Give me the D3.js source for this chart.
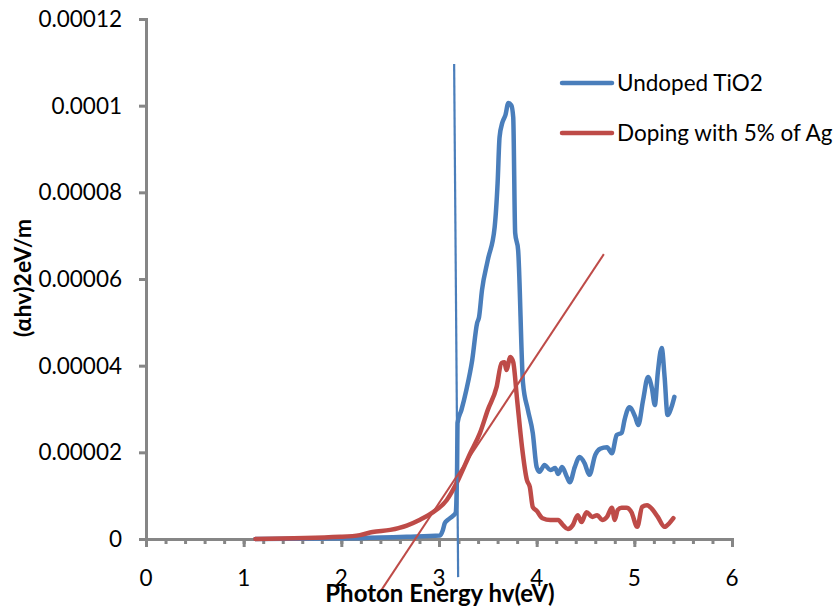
<!DOCTYPE html>
<html>
<head>
<meta charset="utf-8">
<script src="https://cdn.jsdelivr.net/npm/d3@7"></script>
<style>
  html, body { margin: 0; padding: 0; background: #fff; }
  svg { display: block; }
  text { font-family: Lato, "Open Sans", sans-serif; fill: #000; }
</style>
</head>
<body>
<svg id="chart" width="835" height="607"></svg>
<script>
// ---- data ----
const undopedX = [1.12, 2.19, 2.67, 3.01, 3.04, 3.06, 3.09, 3.14, 3.17, 3.185, 3.19, 3.23, 3.28, 3.34, 3.39, 3.41, 3.44, 3.50, 3.57, 3.60, 3.62, 3.65, 3.68, 3.71, 3.74, 3.76, 3.78, 3.81, 3.86, 3.91, 3.96, 4.00, 4.03, 4.08, 4.14, 4.19, 4.22, 4.26, 4.31, 4.34, 4.39, 4.44, 4.49, 4.54, 4.60, 4.65, 4.72, 4.77, 4.82, 4.87, 4.90, 4.95, 5.01, 5.04, 5.09, 5.14, 5.18, 5.21, 5.24, 5.28, 5.31, 5.34, 5.38, 5.41];
const undopedY = [0.0, 0.02e-5, 0.05e-5, 0.08e-5, 0.21e-5, 0.37e-5, 0.44e-5, 0.53e-5, 0.60e-5, 1.59e-5, 2.68e-5, 2.98e-5, 3.44e-5, 4.13e-5, 4.98e-5, 5.12e-5, 5.74e-5, 6.44e-5, 7.20e-5, 8.21e-5, 9.27e-5, 9.62e-5, 9.78e-5, 10.06e-5, 10.01e-5, 9.73e-5, 7.06e-5, 6.67e-5, 3.60e-5, 2.98e-5, 2.45e-5, 1.66e-5, 1.55e-5, 1.71e-5, 1.59e-5, 1.64e-5, 1.50e-5, 1.66e-5, 1.43e-5, 1.31e-5, 1.66e-5, 1.89e-5, 1.75e-5, 1.48e-5, 1.94e-5, 2.08e-5, 2.12e-5, 1.98e-5, 2.40e-5, 2.45e-5, 2.75e-5, 3.04e-5, 2.81e-5, 2.63e-5, 3.21e-5, 3.74e-5, 3.48e-5, 3.09e-5, 3.83e-5, 4.41e-5, 3.74e-5, 2.86e-5, 3.04e-5, 3.28e-5];

const dopedX = [1.12, 1.99, 2.19, 2.32, 2.50, 2.67, 2.80, 2.94, 3.08, 3.18, 3.21, 3.32, 3.42, 3.50, 3.59, 3.64, 3.67, 3.69, 3.73, 3.76, 3.80, 3.85, 3.90, 3.93, 3.96, 4.00, 4.06, 4.14, 4.22, 4.27, 4.32, 4.37, 4.42, 4.46, 4.51, 4.57, 4.62, 4.67, 4.72, 4.77, 4.80, 4.83, 4.87, 4.92, 4.97, 5.03, 5.08, 5.13, 5.19, 5.24, 5.31, 5.36, 5.40];
const dopedY = [0.0, 0.05e-5, 0.09e-5, 0.16e-5, 0.21e-5, 0.31e-5, 0.44e-5, 0.62e-5, 0.90e-5, 1.29e-5, 1.43e-5, 1.98e-5, 2.45e-5, 2.98e-5, 3.51e-5, 4.06e-5, 4.08e-5, 3.90e-5, 4.20e-5, 4.08e-5, 3.21e-5, 2.12e-5, 1.36e-5, 1.20e-5, 0.74e-5, 0.65e-5, 0.48e-5, 0.44e-5, 0.44e-5, 0.32e-5, 0.23e-5, 0.32e-5, 0.55e-5, 0.39e-5, 0.62e-5, 0.51e-5, 0.55e-5, 0.44e-5, 0.51e-5, 0.72e-5, 0.44e-5, 0.67e-5, 0.72e-5, 0.72e-5, 0.62e-5, 0.28e-5, 0.74e-5, 0.78e-5, 0.67e-5, 0.51e-5, 0.28e-5, 0.37e-5, 0.48e-5];

// tangent (band-gap extrapolation) lines
const undopedTangentX = [3.155, 3.196];
const undopedTangentY = [10.96e-5, -0.88e-5];
const dopedTangentX = [4.688, 2.41];
const dopedTangentY = [6.574e-5, -1.18e-5];

const xTicks = [0, 1, 2, 3, 4, 5, 6];
const xTickLabels = ["0", "1", "2", "3", "4", "5", "6"];
const yTicks = [0, 0.00002, 0.00004, 0.00006, 0.00008, 0.0001, 0.00012];
const yTickLabels = ["0", "0.00002", "0.00004", "0.00006", "0.00008", "0.0001", "0.00012"];
const seriesNames = ["Undoped TiO2", "Doping with 5% of Ag"];
const seriesColors = ["#4a7ebb", "#be4b48"];
const xTitle = "Photon Energy hv(eV)";
const yTitle = "(αhv)2eV/m";

// ---- chart ----
const svg = d3.select("#chart");
const x = d3.scaleLinear().domain([0, 6]).range([146, 732]);
const y = d3.scaleLinear().domain([0, 0.00012]).range([539, 19]);
const axisColor = "#868686";
const fs = 22.5;

// y axis
const yAxis = d3.axisLeft(y).tickValues(yTicks).tickSize(7).tickFormat(() => "");
const gy = svg.append("g").attr("transform", `translate(${x(0)},0)`).call(yAxis);
gy.select(".domain").attr("stroke", axisColor).attr("stroke-width", 3);
gy.selectAll(".tick line").attr("stroke", axisColor).attr("stroke-width", 3);
svg.append("g").selectAll("text").data(yTicks).join("text")
  .attr("x", x(0) - 24).attr("y", d => y(d)).attr("dy", "0.36em")
  .attr("text-anchor", "end").style("font-size", fs + "px")
  .text((d, i) => yTickLabels[i]);

// x axis minor ticks
const minorTicks = d3.range(0, 6.0001, 0.2).map(v => +v.toFixed(1));
const xMinor = d3.axisBottom(x).tickValues(minorTicks).tickSize(5).tickFormat(() => "");
const gxm = svg.append("g").attr("transform", `translate(0,${y(0)})`).call(xMinor);
gxm.select(".domain").remove();
gxm.selectAll(".tick line").attr("stroke", axisColor).attr("stroke-width", 3);
// x axis major
const xAxis = d3.axisBottom(x).tickValues(xTicks).tickSize(8).tickFormat(() => "");
const gx = svg.append("g").attr("transform", `translate(0,${y(0)})`).call(xAxis);
gx.select(".domain").attr("stroke", axisColor).attr("stroke-width", 3);
gx.selectAll(".tick line").attr("stroke", axisColor).attr("stroke-width", 3);
svg.append("g").selectAll("text").data(xTicks).join("text")
  .attr("x", d => x(d)).attr("y", 586)
  .attr("text-anchor", "middle").style("font-size", fs + "px")
  .text((d, i) => xTickLabels[i]);

// series
const line = d3.line().x(d => x(d[0])).y(d => y(d[1])).curve(d3.curveMonotoneX);
const series = [d3.zip(undopedX, undopedY), d3.zip(dopedX, dopedY)];
svg.append("g").selectAll("path").data(series).join("path")
  .attr("d", line).attr("fill", "none")
  .attr("stroke", (d, i) => seriesColors[i]).attr("stroke-width", 4.5)
  .attr("stroke-linejoin", "round").attr("stroke-linecap", "round");

// tangent lines
const straight = d3.line().x(d => x(d[0])).y(d => y(d[1]));
svg.append("path").attr("d", straight(d3.zip(undopedTangentX, undopedTangentY)))
  .attr("stroke", seriesColors[0]).attr("stroke-width", 2.2).attr("fill", "none");
svg.append("path").attr("d", straight(d3.zip(dopedTangentX, dopedTangentY)))
  .attr("stroke", seriesColors[1]).attr("stroke-width", 2).attr("fill", "none");

// axis titles
svg.append("text").attr("x", 440).attr("y", 602).attr("text-anchor", "middle")
  .style("font-size", "24px").style("font-weight", "bold").text(xTitle);
svg.append("text").attr("transform", "translate(31,278) rotate(-90)").attr("text-anchor", "middle")
  .style("font-size", "23px").style("font-weight", "bold").text(yTitle);

// legend
const lg = svg.append("g").selectAll("g").data(seriesNames).join("g")
  .attr("transform", (d, i) => `translate(562,${83 + i * 50})`);
lg.append("line").attr("x1", 0).attr("x2", 50).attr("y1", 0).attr("y2", 0)
  .attr("stroke", (d, i) => seriesColors[i]).attr("stroke-width", 4.5).attr("stroke-linecap", "round");
lg.append("text").attr("x", 55).attr("dy", "0.36em").style("font-size", fs + "px").text(d => d);
</script>
</body>
</html>
